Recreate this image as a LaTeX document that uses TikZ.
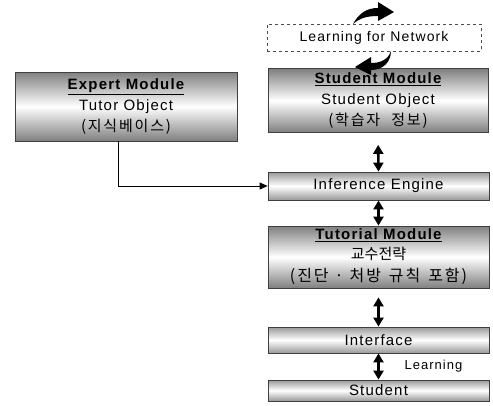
\documentclass[tikz,border=0pt]{standalone}
\usepackage{fontspec}
\setmainfont{Liberation Sans}[LetterSpace=8]
\newfontfamily\kr{Noto Sans CJK KR}[LetterSpace=12]
\newfontfamily\krtight{Noto Sans CJK KR}
\newcommand\krtext[1]{{\kr\fontsize{15}{21}\selectfont #1}}
\usetikzlibrary{arrows.meta}
\begin{document}
\begin{tikzpicture}[x=1pt,y=-1pt,
  module/.style={draw=black!75, line width=0.8pt,
    top color=black!50, bottom color=black!50, middle color=white,
    inner sep=0pt, align=center, font=\fontsize{15}{21}\selectfont},
  barbox/.style={module, top color=black!40, bottom color=black!40, middle color=white},
  dbl/.style={line width=2.6pt,
    {Triangle[width=10pt,length=9pt]}-{Triangle[width=10pt,length=9pt]}},
  feed/.style={line width=0.8pt, -{Triangle[width=7pt,length=8pt]}},
  swoosh/.style={fill=black, draw=none}
]
\useasboundingbox (0,0) rectangle (493,405);

% dashed network box
\node[draw=black!70, dashed, line width=0.8pt, minimum width=214, minimum height=27,
      font=\fontsize{14}{16}\selectfont] (net) at (374,37.5) {Learning for Network};

% modules
\node[module, minimum width=222, minimum height=69] (expert) at (126,106.5)
  {\underline{\bfseries Expert Module}\\ Tutor Object\\ \krtext{(지식베이스)}};
\node[module, minimum width=220, minimum height=64] (smod) at (378,100.5)
  {\underline{\bfseries Student Module}\\ Student Object\\ \krtext{(학습자\hspace{6pt} 정보)}};
\node[barbox, minimum width=221, minimum height=28] (inf) at (378.5,186) {Inference Engine};
\node[module, minimum width=221, minimum height=62] (tut) at (378.5,257)
  {\underline{\bfseries Tutorial Module}\\[-1pt] {\krtight\fontsize{15}{20}\selectfont 교수전략}\\[1pt]
   {\kr\fontsize{16}{21}\selectfont (진단\hspace{6pt}·\hspace{6pt}처방\hspace{8pt}규칙\hspace{8pt}포함)}};
\node[barbox, minimum width=221, minimum height=26] (intf) at (378.5,340) {Interface};
\node[barbox, minimum width=221, minimum height=21] (stu) at (378.5,390.5) {Student};

\node[anchor=west, font=\fontsize{13}{15}\selectfont] (lrn) at (401,366) {Learning};

% connectors
\draw[dbl, shorten <=12pt] (smod.south) -- (inf.north);
\draw[dbl] (inf.south) -- (tut.north);
\draw[dbl, shorten <=9pt] (tut.south) -- (intf.north);
\draw[dbl] (intf.south) -- (stu.north);
\draw[feed] ([xshift=-8pt]expert.south) |- (inf.west);

% curved arrows around the network box
\fill[swoosh] (353,24) .. controls (359,13) and (367,8) .. (378,8)
  -- (378,2) -- (394,12) -- (378,21) -- (378,16)
  .. controls (367,16) and (360,18) .. cycle;
\fill[swoosh] (391,51) .. controls (388,60) and (380,63) .. (371,63)
  -- (371,57) -- (355,67) -- (371,75) -- (371,70)
  .. controls (383,70) and (391,62) .. cycle;
\end{tikzpicture}
\end{document}
